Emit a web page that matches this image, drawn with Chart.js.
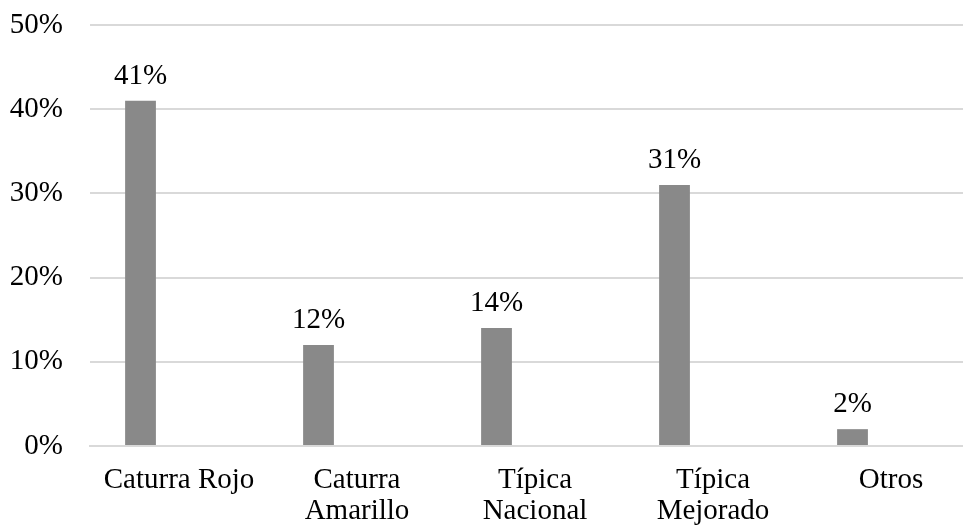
<!DOCTYPE html>
<html>
<head>
<meta charset="utf-8">
<script src="https://cdn.jsdelivr.net/npm/chart.js@4/dist/chart.umd.min.js"></script>
<style>
  html, body { margin: 0; padding: 0; background: #ffffff; overflow: hidden; }
  #wrap { position: relative; width: 1000px; height: 526px; }
</style>
</head>
<body>
<div id="wrap"><canvas id="c"></canvas></div>
<script>
// Coffee varieties and their share (%)
const categories = ['Caturra Rojo', ['Caturra', 'Amarillo'], ['Típica', 'Nacional'], ['Típica', 'Mejorado'], 'Otros'];
const shares = [41, 12, 14, 31, 2];
const emptySeries = [null, null, null, null, null];
const yTicks = [0, 10, 20, 30, 40, 50];

const FONT = 'Liberation Serif, "Times New Roman", serif';

// Writes each bar's value above it
const valueLabels = {
  id: 'valueLabels',
  afterDatasetsDraw(chart) {
    const ctx = chart.ctx;
    const meta = chart.getDatasetMeta(0);
    ctx.save();
    ctx.font = '29px ' + FONT;
    ctx.fillStyle = '#000000';
    ctx.textAlign = 'center';
    ctx.textBaseline = 'alphabetic';
    meta.data.forEach((bar, i) => {
      const v = chart.data.datasets[0].data[i];
      if (v == null) return;
      ctx.fillText(v + '%', bar.x, bar.y - 17);
    });
    ctx.restore();
  }
};

new Chart(document.getElementById('c'), {
  type: 'bar',
  data: {
    labels: categories,
    datasets: [
      { data: shares, backgroundColor: '#898989', borderWidth: 0 },
      { data: emptySeries, backgroundColor: '#c0c0c0', borderWidth: 0 }
    ]
  },
  options: {
    responsive: true,
    maintainAspectRatio: false,
    animation: false,
    events: [],
    layout: { padding: { top: 25, right: 20, left: 0, bottom: 0 } },
    plugins: { legend: { display: false }, tooltip: { enabled: false } },
    datasets: { bar: { categoryPercentage: 0.865, barPercentage: 0.4 } },
    scales: {
      x: {
        grid: { display: false, drawTicks: false },
        border: { display: true, color: '#d9d9d9', width: 2 },
        ticks: {
          color: '#000000',
          font: { family: FONT, size: 29, lineHeight: 1.1 },
          padding: 18,
          maxRotation: 0,
          autoSkip: false
        },
        afterFit(scale) { scale.height = 80; }
      },
      y: {
        min: 0,
        max: 50,
        afterBuildTicks(scale) { scale.ticks = yTicks.map(v => ({ value: v })); },
        grid: { color: '#d9d9d9', lineWidth: 2, drawTicks: false },
        border: { display: false },
        ticks: {
          color: '#000000',
          font: { family: FONT, size: 29 },
          padding: 27,
          callback: v => v + '%'
        },
        afterFit(scale) {
          scale.width = 90;
          scale.paddingTop = 0;
          scale.paddingBottom = 0;
        }
      }
    }
  },
  plugins: [valueLabels]
});
</script>
</body>
</html>
